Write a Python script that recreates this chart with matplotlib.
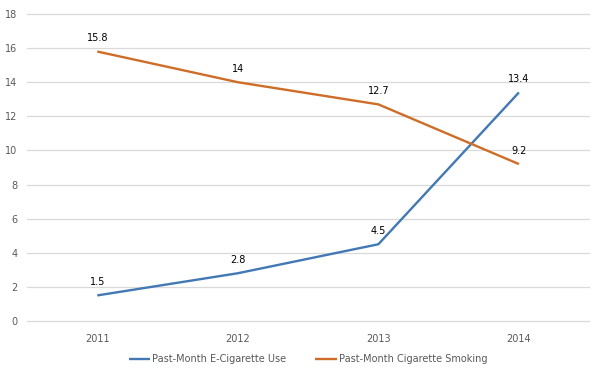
import matplotlib
matplotlib.use("Agg")
import matplotlib.pyplot as plt

years = ["2011", "2012", "2013", "2014"]
ecig = [1.5, 2.8, 4.5, 13.4]
cig = [15.8, 14, 12.7, 9.2]
ecig_labels = ["1.5", "2.8", "4.5", "13.4"]
cig_labels = ["15.8", "14", "12.7", "9.2"]
yticks = list(range(0, 19, 2))

blue = "#4278b3"
orange = "#cf6d28"

fig = plt.figure(figsize=(6, 3.73), dpi=100)
ax = fig.add_axes([0.045, 0.1394, 0.937, 0.8231])
x = list(range(len(years)))
ax.plot(x, ecig, color=blue, lw=1.7, label="Past-Month E-Cigarette Use", solid_capstyle="butt")
ax.plot(x, cig, color=orange, lw=1.7, label="Past-Month Cigarette Smoking", solid_capstyle="butt")
for xi, v, t in zip(x, ecig, ecig_labels):
    ax.annotate(t, (xi, v), xytext=(0, 6), textcoords="offset points", ha="center", va="bottom", fontsize=7, color="#000000")
for xi, v, t in zip(x, cig, cig_labels):
    ax.annotate(t, (xi, v), xytext=(0, 6), textcoords="offset points", ha="center", va="bottom", fontsize=7, color="#000000")

ax.set_xlim(-0.5, len(years) - 0.5)
ax.set_ylim(0, 18)
ax.set_yticks(yticks)
ax.set_xticks(x)
ax.set_xticklabels(years)
ax.grid(axis="y", color="#d9d9d9", lw=0.9)
for gl in ax.get_ygridlines():
    gl.set_clip_on(False)
ax.set_axisbelow(True)
for s in ["top", "right", "left", "bottom"]:
    ax.spines[s].set_visible(False)
ax.tick_params(axis="both", length=0, labelsize=7, colors="#595959", pad=7)
ax.tick_params(axis="x", pad=9)

ax.legend(loc="upper center", bbox_to_anchor=(0.5, -0.08), ncol=2, frameon=False,
          fontsize=7, handlelength=2.2, handletextpad=0.2, columnspacing=3,
          labelcolor="#595959")
fig.savefig("out.png", dpi=100)
